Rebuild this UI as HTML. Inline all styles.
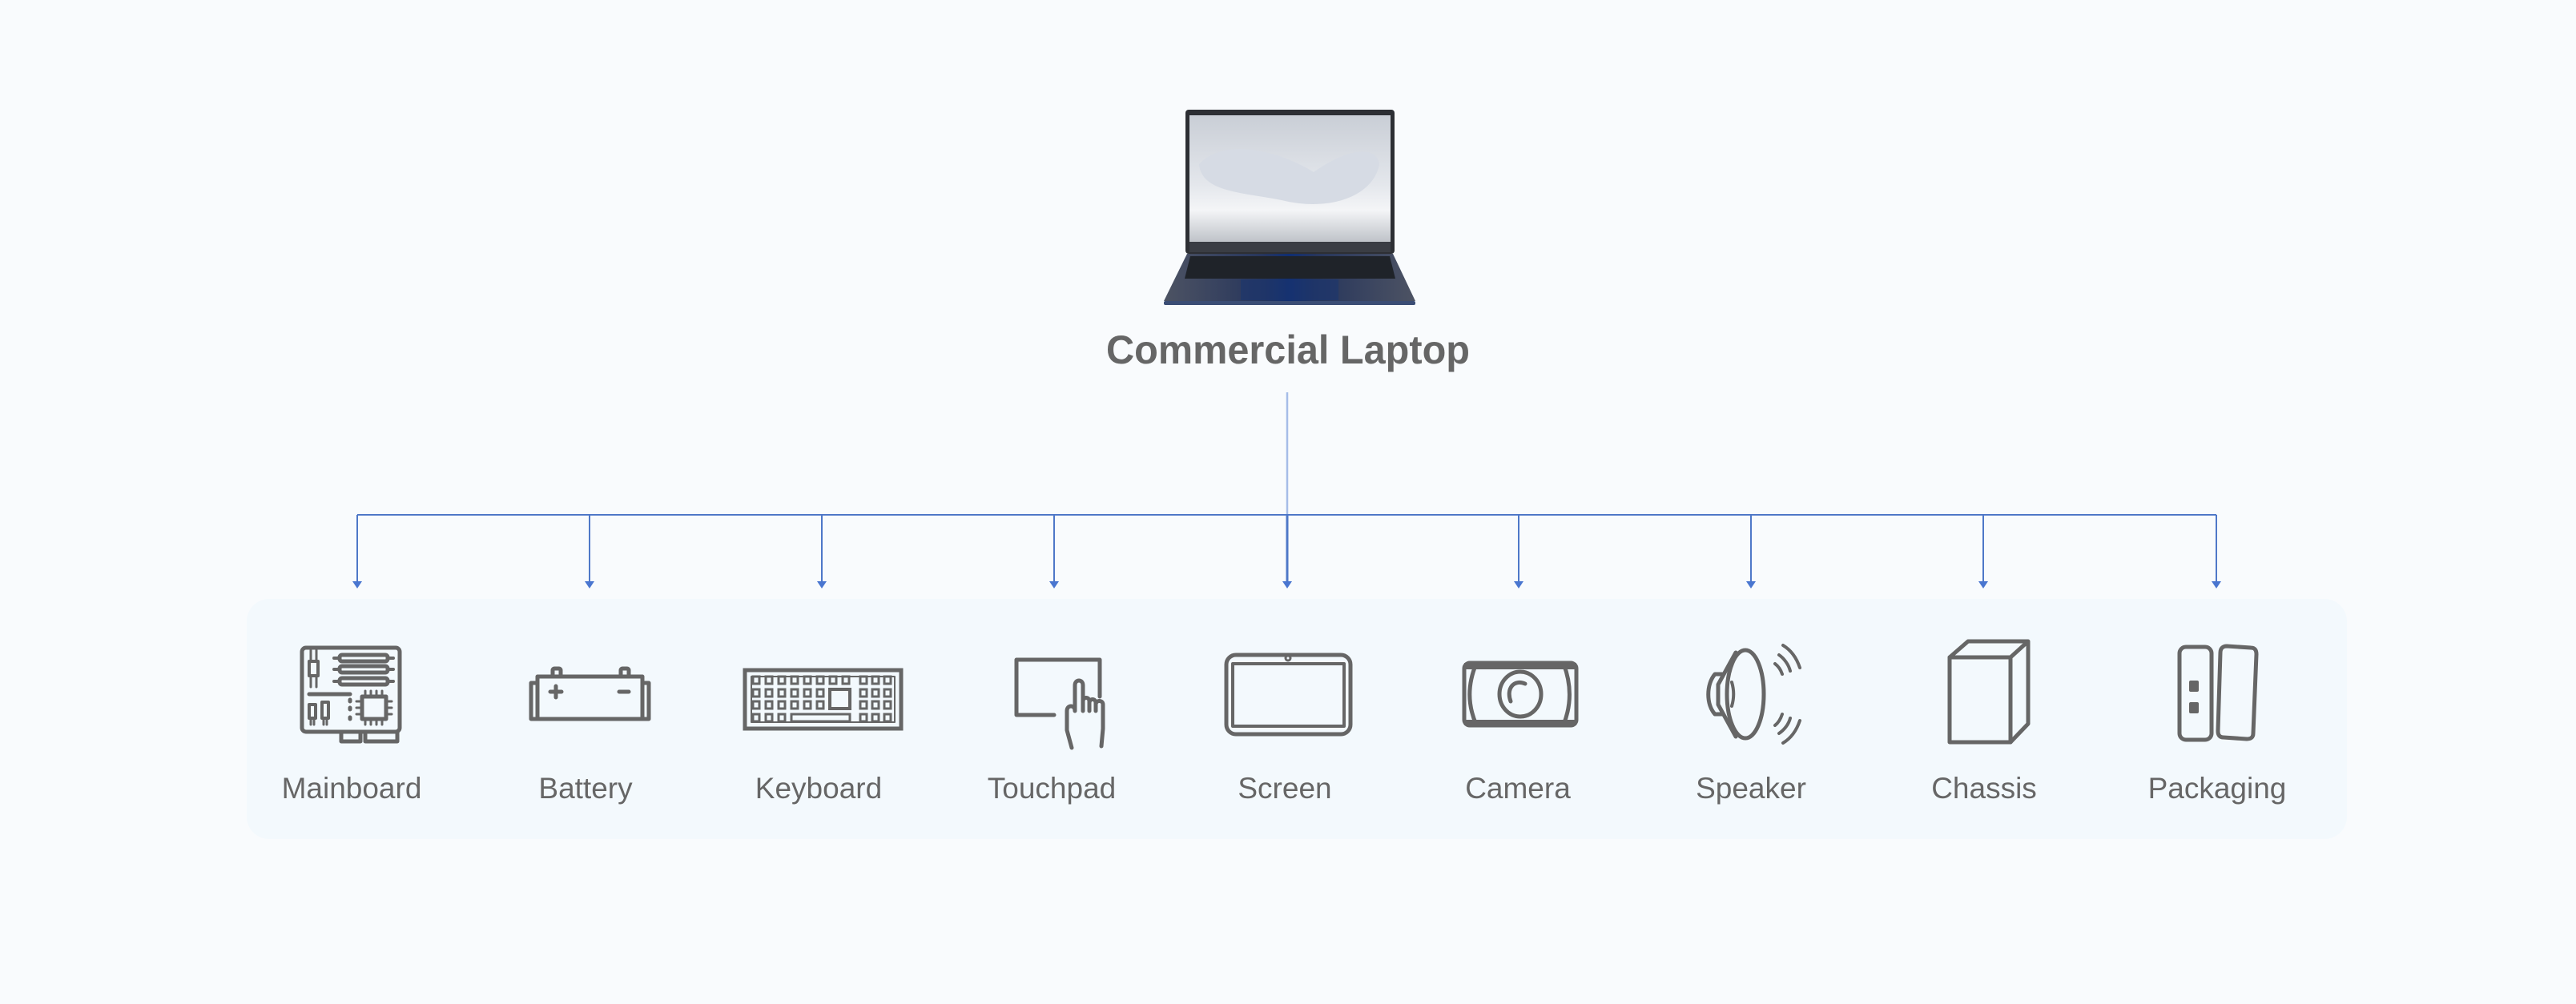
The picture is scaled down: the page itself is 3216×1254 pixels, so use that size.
<!DOCTYPE html>
<html><head><meta charset="utf-8"><style>
html,body{margin:0;padding:0;background:#f9fbfd;}
svg{display:block}
text{font-family:"Liberation Sans","DejaVu Sans",sans-serif;fill:#666}
</style></head><body>
<svg width="3216" height="1254" viewBox="0 0 3216 1254" xmlns="http://www.w3.org/2000/svg">
<defs>
<linearGradient id="scr" x1="0" y1="0" x2="0" y2="1">
<stop offset="0" stop-color="#c9ced6"/><stop offset="0.55" stop-color="#e4e7ec"/><stop offset="0.75" stop-color="#f4f5f7"/><stop offset="1" stop-color="#bfc3c9"/>
</linearGradient>
<linearGradient id="base" x1="0" y1="0" x2="1" y2="0">
<stop offset="0" stop-color="#4d5363"/><stop offset="0.4" stop-color="#26355c"/><stop offset="0.5" stop-color="#0f2e73"/><stop offset="0.6" stop-color="#26355c"/><stop offset="1" stop-color="#4d5363"/>
</linearGradient>
</defs>
<rect width="3216" height="1254" fill="#f9fbfd"/>
<!-- laptop -->
<rect x="1480" y="137" width="261" height="180" rx="4" fill="#2d2f34"/>
<rect x="1485" y="144" width="251" height="158" fill="url(#scr)"/>
<path d="M1497 205 C1530 170 1600 190 1640 215 C1690 180 1720 185 1722 205 C1715 245 1660 265 1600 250 C1550 240 1500 240 1497 205Z" fill="#d6dbe4"/>
<rect x="1485" y="302" width="251" height="13" fill="#3a3d44"/>
<path d="M1482 317 L1739 317 L1767 376 L1453 376 Z" fill="url(#base)"/>
<path d="M1486 320 L1735 320 L1742 348 L1479 348 Z" fill="#1f2329"/>
<rect x="1549" y="349" width="122" height="26" fill="#1a3570" opacity="0.6"/>
<rect x="1453" y="376" width="314" height="5" rx="2" fill="#3b4d75"/>
<text x="1608" y="454" font-size="50" font-weight="600" text-anchor="middle" textLength="454" lengthAdjust="spacingAndGlyphs" fill="#666">Commercial Laptop</text>
<!-- connectors -->
<line x1="1607" y1="490" x2="1607" y2="643" stroke="#a6bde8" stroke-width="2.5"/>
<line x1="446" y1="643" x2="2767" y2="643" stroke="#4f78c8" stroke-width="2"/>
<g stroke="#4f78c8" stroke-width="2" fill="#4a76d0">
<line x1="446" y1="643" x2="446" y2="728"/><path d="M440 726 L452 726 L446 735Z" stroke="none"/>
<line x1="736" y1="643" x2="736" y2="728"/><path d="M730 726 L742 726 L736 735Z" stroke="none"/>
<line x1="1026" y1="643" x2="1026" y2="728"/><path d="M1020 726 L1032 726 L1026 735Z" stroke="none"/>
<line x1="1316" y1="643" x2="1316" y2="728"/><path d="M1310 726 L1322 726 L1316 735Z" stroke="none"/>
<line x1="1607" y1="643" x2="1607" y2="728" stroke-width="3"/><path d="M1601 726 L1613 726 L1607 735Z" stroke="none"/>
<line x1="1896" y1="643" x2="1896" y2="728"/><path d="M1890 726 L1902 726 L1896 735Z" stroke="none"/>
<line x1="2186" y1="643" x2="2186" y2="728"/><path d="M2180 726 L2192 726 L2186 735Z" stroke="none"/>
<line x1="2476" y1="643" x2="2476" y2="728"/><path d="M2470 726 L2482 726 L2476 735Z" stroke="none"/>
<line x1="2767" y1="643" x2="2767" y2="728"/><path d="M2761 726 L2773 726 L2767 735Z" stroke="none"/>
</g>
<!-- panel -->
<rect x="308" y="748" width="2622" height="300" rx="28" fill="#f3f9fd"/>
<g stroke="#666" stroke-width="5" fill="none" stroke-linejoin="round" stroke-linecap="round">
<!-- mainboard -->
<rect x="377" y="809" width="122" height="105" rx="5"/>
<rect x="424" y="818" width="60" height="8" rx="3"/><rect x="424" y="832" width="60" height="8" rx="3"/><rect x="424" y="847" width="60" height="8" rx="3"/>
<path d="M417 822 h7 M484 822 h7 M417 836 h7 M484 836 h7 M417 851 h7 M484 851 h7" stroke-width="4"/>
<rect x="386" y="826" width="11" height="18" stroke-width="4"/>
<path d="M388 812 v14 M395 812 v14 M388 844 v14 M395 844 v14" stroke-width="3"/>
<line x1="386" y1="867" x2="437" y2="867"/>
<rect x="452" y="870" width="30" height="28"/>
<path d="M456 863 v7 M463 863 v7 M470 863 v7 M477 863 v7 M456 898 v7 M463 898 v7 M470 898 v7 M477 898 v7 M445 876 h7 M445 884 h7 M445 892 h7 M482 876 h7 M482 884 h7 M482 892 h7" stroke-width="3"/>
<rect x="386" y="880" width="8" height="17" stroke-width="4"/><rect x="402" y="877" width="8" height="20" stroke-width="4"/>
<path d="M388 897 v8 M392 897 v8 M404 897 v8 M408 897 v8" stroke-width="3"/>
<path d="M437 874 v2 M437 884 v2 M437 896 v2" />
<path d="M426 914 v12 h24 v-12 M456 914 v12 h40 v-12"/>
<!-- battery -->
<path d="M671 845 H802 V898 H671 Z"/>
<path d="M671 853 H663 V898 H810 V853 H802"/>
<rect x="690" y="835" width="10" height="10" rx="2"/><rect x="775" y="835" width="10" height="10" rx="2"/>
<path d="M694 857 v14 M687 864 h14 M773 864 h12"/>
<!-- keyboard -->
<rect x="930" y="837" width="195" height="73" stroke-linejoin="miter"/>
<rect x="938" y="845" width="179" height="57" stroke-width="2"/>
</g>
<g fill="none" stroke="#666" stroke-width="3">
<rect x="940" y="845" width="8" height="9"/><rect x="956" y="845" width="8" height="9"/><rect x="972" y="845" width="8" height="9"/><rect x="988" y="845" width="8" height="9"/><rect x="1004" y="845" width="8" height="9"/><rect x="1020" y="845" width="8" height="9"/><rect x="1036" y="845" width="8" height="9"/><rect x="1052" y="845" width="8" height="9"/>
<rect x="940" y="861" width="8" height="9"/><rect x="956" y="861" width="8" height="9"/><rect x="972" y="861" width="8" height="9"/><rect x="988" y="861" width="8" height="9"/><rect x="1004" y="861" width="8" height="9"/><rect x="1020" y="861" width="8" height="9"/>
<rect x="940" y="876" width="8" height="9"/><rect x="956" y="876" width="8" height="9"/><rect x="972" y="876" width="8" height="9"/><rect x="988" y="876" width="8" height="9"/><rect x="1004" y="876" width="8" height="9"/><rect x="1020" y="876" width="8" height="9"/>
<rect x="940" y="892" width="8" height="9"/><rect x="956" y="892" width="8" height="9"/><rect x="972" y="892" width="8" height="9"/>
<rect x="1074" y="845" width="8" height="9"/><rect x="1089" y="845" width="8" height="9"/><rect x="1104" y="845" width="8" height="9"/>
<rect x="1074" y="861" width="8" height="9"/><rect x="1089" y="861" width="8" height="9"/><rect x="1104" y="861" width="8" height="9"/>
<rect x="1074" y="876" width="8" height="9"/><rect x="1089" y="876" width="8" height="9"/><rect x="1104" y="876" width="8" height="9"/>
<rect x="1074" y="892" width="8" height="9"/><rect x="1089" y="892" width="8" height="9"/><rect x="1104" y="892" width="8" height="9"/>
<rect x="1036" y="861" width="25" height="24" stroke-width="4"/>
<rect x="988" y="892" width="73" height="9"/>
</g>
<g stroke="#666" stroke-width="5" fill="none" stroke-linejoin="round" stroke-linecap="round">
<!-- touchpad -->
<path d="M1316 893 H1269 V824 H1373 V870"/>
<path d="M1338 934 L1332 912 V888 C1332 880 1342 880 1342 888 V856 C1342 848 1352 848 1352 856 V888 M1352 876 C1352 870 1360 870 1360 876 V888 M1360 878 C1360 872 1368 872 1368 878 V888 M1368 880 C1368 874 1377 874 1377 880 V910 L1375 932"/>
<!-- screen -->
<rect x="1531" y="818" width="155" height="99" rx="12"/>
<rect x="1539" y="829" width="139" height="78" stroke-width="4"/>
<circle cx="1608" cy="822" r="3" stroke-width="3"/>
<!-- camera -->
<rect x="1828" y="828" width="140" height="78" rx="7"/>
<path d="M1843 829 C1832 855 1832 880 1843 905 M1952 829 C1962 855 1962 880 1952 905"/>
<rect x="1828" y="828" width="140" height="8" fill="#666" stroke="none"/>
<rect x="1828" y="899" width="140" height="7" fill="#666" stroke="none"/>
<ellipse cx="1898" cy="867" rx="26" ry="28"/>
<path d="M1886 876 C1880 860 1890 848 1904 854"/>
<!-- speaker -->
<ellipse cx="2179" cy="867" rx="23" ry="55"/>
<path d="M2167 815 L2145 855 L2145 880 L2167 920"/>
<path d="M2150 842 H2141 C2130 855 2130 880 2141 892 H2150"/>
<path d="M2162 852 C2165 862 2165 872 2162 882" stroke-width="4"/>
<path d="M2216 829 C2220 832 2223 836 2225 842 M2221 818 C2227 822 2233 830 2235 838 M2226 806 C2236 812 2243 822 2247 834 M2216 906 C2220 903 2223 898 2225 892 M2221 916 C2227 912 2233 905 2235 897 M2226 928 C2236 922 2243 912 2247 900" stroke-width="4"/>
<!-- chassis -->
<path d="M2434 821 L2457 801 H2532 V904 L2510 927 M2510 821 L2532 801"/>
<rect x="2434" y="821" width="76" height="106"/>
<!-- packaging -->
<rect x="2721" y="808" width="40" height="116" rx="8"/>
<path d="M2780 807 L2810 809 C2815 809 2817 812 2817 817 L2813 916 C2813 921 2810 923 2805 923 L2776 921 C2771 921 2769 918 2769 913 L2772 815 C2772 810 2775 807 2780 807Z"/>
</g>
<g fill="#666">
<rect x="2733" y="850" width="12" height="14" rx="2"/><rect x="2733" y="877" width="12" height="14" rx="2"/>
</g>
<!-- labels -->
<g font-size="37" text-anchor="middle">
<text x="439" y="997">Mainboard</text>
<text x="731" y="997">Battery</text>
<text x="1022" y="997">Keyboard</text>
<text x="1313" y="997">Touchpad</text>
<text x="1604" y="997">Screen</text>
<text x="1895" y="997">Camera</text>
<text x="2186" y="997">Speaker</text>
<text x="2477" y="997">Chassis</text>
<text x="2768" y="997">Packaging</text>
</g>
</svg>
</body></html>
